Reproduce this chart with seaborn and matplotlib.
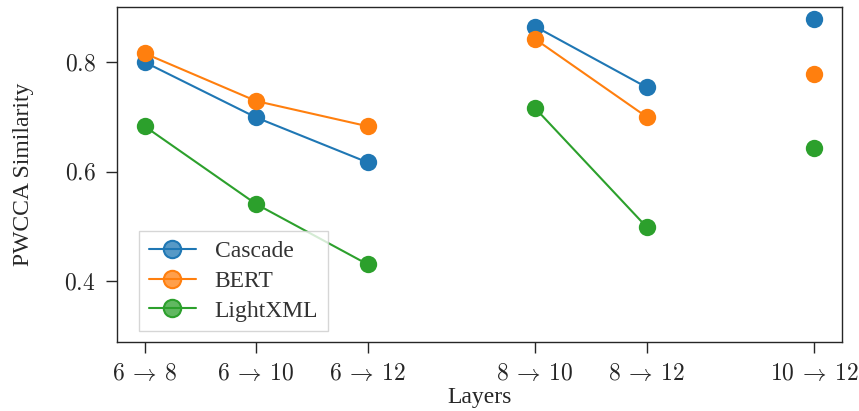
import matplotlib
matplotlib.use('Agg')
import matplotlib.pyplot as plt
from matplotlib.lines import Line2D
from matplotlib.colors import to_rgba
import pandas as pd
import seaborn as sns

# layer pairs (source -> target)
src_layers = [6, 6, 6, 8, 8, 10]
dst_layers = [8, 10, 12, 10, 12, 12]

# PWCCA similarity per model
models = ['Cascade', 'BERT', 'LightXML']
cascade = [0.800, 0.699, 0.617, 0.865, 0.754, 0.879]
bert = [0.816, 0.729, 0.683, 0.842, 0.700, 0.779]
lightxml = [0.683, 0.541, 0.431, 0.716, 0.499, 0.644]
colors = ['#1f77b4', '#ff7f0e', '#2ca02c']

sns.set_style('ticks')
plt.rcParams['font.family'] = ['Liberation Serif', 'DejaVu Serif']
plt.rcParams['mathtext.fontset'] = 'cm'
fs = 17

# half-unit gap between groups with the same source layer
groups = sorted(set(src_layers))
pos = [i + 0.5 * groups.index(s) for i, s in enumerate(src_layers)]
xlabels = [r'$%d\:\rightarrow\:%d$' % (s, d) for s, d in zip(src_layers, dst_layers)]

rows = []
for name, vals in zip(models, [cascade, bert, lightxml]):
    for p, s, v in zip(pos, src_layers, vals):
        rows.append({'x': p, 'y': v, 'model': name, 'grp': s})
df = pd.DataFrame(rows)

fig = plt.figure(figsize=(8.59, 4.11), dpi=100)
ax = fig.add_axes([0.1359, 0.1686, 0.8443, 0.8136])

sns.lineplot(data=df, x='x', y='y', hue='model', units='grp', estimator=None,
             marker='o', markersize=12.5, markeredgewidth=0, linewidth=1.5,
             palette=colors, ax=ax, legend=False)

ax.set_xlim(-0.25, 6.25)
ax.set_ylim(0.29, 0.90)
ax.set_xticks(pos)
ax.set_xticklabels(xlabels)
ax.set_yticks([0.4, 0.6, 0.8])
ax.set_yticklabels([r'$0.4$', r'$0.6$', r'$0.8$'])
ax.tick_params(direction='out', length=8, width=1, labelsize=fs)
ax.tick_params(axis='x', pad=7)
ax.tick_params(axis='y', pad=7)
for sp in ax.spines.values():
    sp.set_linewidth(1.0)
ax.set_xlabel('Layers', fontsize=fs, labelpad=2)
ax.set_ylabel('PWCCA Similarity', fontsize=fs, labelpad=22)

handles = [Line2D([0], [0], color=c, marker='o', markersize=12.5, lw=1.5,
                  markerfacecolor=to_rgba(c, 0.75), markeredgecolor=c, markeredgewidth=1.5)
           for c in colors]
leg = ax.legend(handles, models, loc='lower left', bbox_to_anchor=(0.031, 0.032),
                borderaxespad=0, fancybox=False, edgecolor='#cccccc', framealpha=0.8,
                fontsize=fs, labelspacing=0.35)
for t in leg.get_texts():
    t.set_color('#333333')

fig.savefig('out.png', dpi=100)
